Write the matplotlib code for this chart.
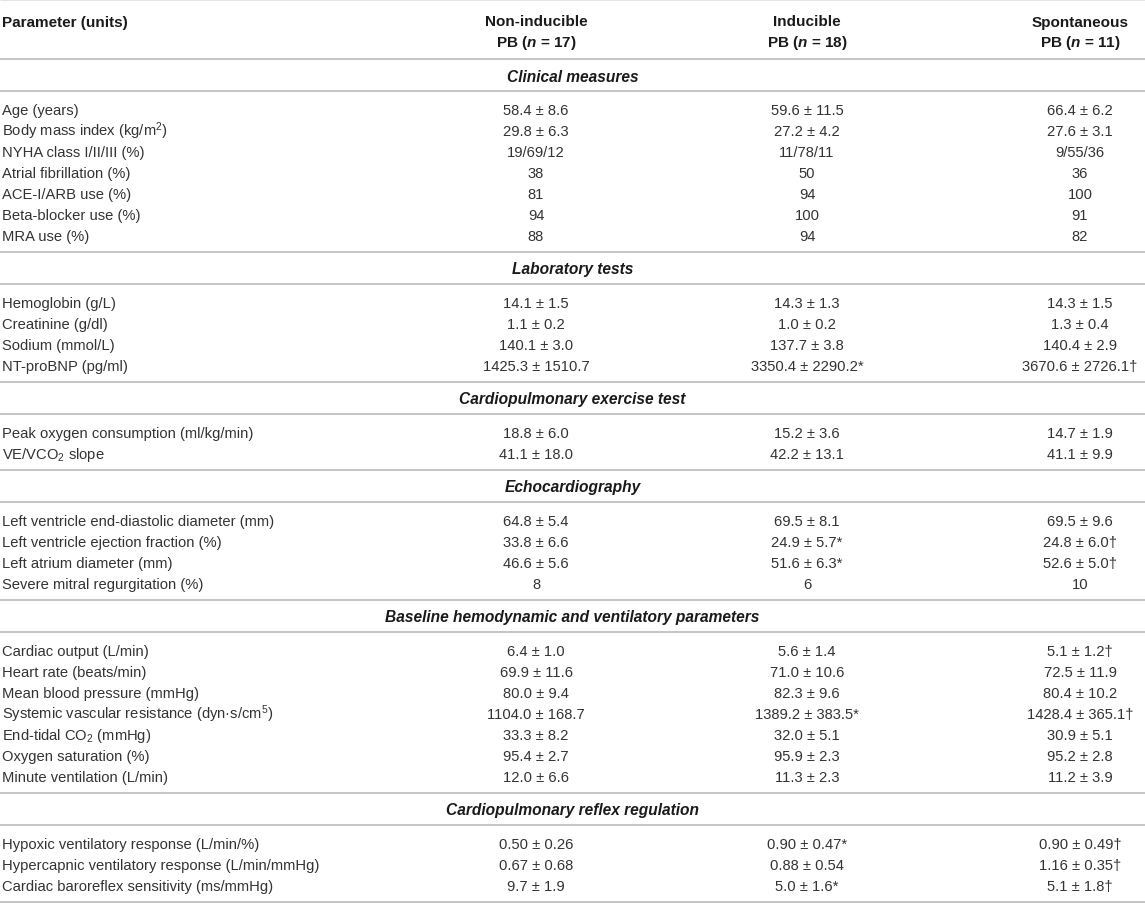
import matplotlib
matplotlib.use("Agg")
import matplotlib.pyplot as plt

plt.rcParams['font.family'] = ['Liberation Sans', 'DejaVu Sans']
plt.rcParams['mathtext.fontset'] = 'custom'
plt.rcParams['mathtext.rm'] = 'Liberation Sans'
plt.rcParams['mathtext.it'] = 'Liberation Sans:italic'
plt.rcParams['mathtext.bf'] = 'Liberation Sans:bold'
try:
    plt.rcParams['mathtext.bfit'] = 'Liberation Sans:italic:bold'
    HAS_BFIT = True
except KeyError:
    HAS_BFIT = False
plt.rcParams['mathtext.default'] = 'regular'

# ---------------- data ----------------
first_header = "Parameter (units)"
group_names = ["Non-inducible", "Inducible", "Spontaneous"]
group_sizes = [17, 18, 11]

section_titles = [
    "Clinical measures",
    "Laboratory tests",
    "Cardiopulmonary exercise test",
    "Echocardiography",
    "Baseline hemodynamic and ventilatory parameters",
    "Cardiopulmonary reflex regulation",
]
section_row_counts = [7, 4, 2, 4, 7, 3]

parameters = [
    "Age (years)",
    "Body mass index (kg/m$^{2}$)",
    "NYHA class I/II/III (%)",
    "Atrial fibrillation (%)",
    "ACE-I/ARB use (%)",
    "Beta-blocker use (%)",
    "MRA use (%)",
    "Hemoglobin (g/L)",
    "Creatinine (g/dl)",
    "Sodium (mmol/L)",
    "NT-proBNP (pg/ml)",
    "Peak oxygen consumption (ml/kg/min)",
    "VE/VCO$_{2}$ slope",
    "Left ventricle end-diastolic diameter (mm)",
    "Left ventricle ejection fraction (%)",
    "Left atrium diameter (mm)",
    "Severe mitral regurgitation (%)",
    "Cardiac output (L/min)",
    "Heart rate (beats/min)",
    "Mean blood pressure (mmHg)",
    "Systemic vascular resistance (dyn\u00b7s/cm$^{5}$)",
    "End-tidal CO$_{2}$ (mmHg)",
    "Oxygen saturation (%)",
    "Minute ventilation (L/min)",
    "Hypoxic ventilatory response (L/min/%)",
    "Hypercapnic ventilatory response (L/min/mmHg)",
    "Cardiac baroreflex sensitivity (ms/mmHg)",
]

non_inducible = [
    "58.4 \u00b1 8.6", "29.8 \u00b1 6.3", "19/69/12", "38", "81", "94", "88",
    "14.1 \u00b1 1.5", "1.1 \u00b1 0.2", "140.1 \u00b1 3.0", "1425.3 \u00b1 1510.7",
    "18.8 \u00b1 6.0", "41.1 \u00b1 18.0",
    "64.8 \u00b1 5.4", "33.8 \u00b1 6.6", "46.6 \u00b1 5.6", "8",
    "6.4 \u00b1 1.0", "69.9 \u00b1 11.6", "80.0 \u00b1 9.4", "1104.0 \u00b1 168.7",
    "33.3 \u00b1 8.2", "95.4 \u00b1 2.7", "12.0 \u00b1 6.6",
    "0.50 \u00b1 0.26", "0.67 \u00b1 0.68", "9.7 \u00b1 1.9",
]
inducible = [
    "59.6 \u00b1 11.5", "27.2 \u00b1 4.2", "11/78/11", "50", "94", "100", "94",
    "14.3 \u00b1 1.3", "1.0 \u00b1 0.2", "137.7 \u00b1 3.8", "3350.4 \u00b1 2290.2*",
    "15.2 \u00b1 3.6", "42.2 \u00b1 13.1",
    "69.5 \u00b1 8.1", "24.9 \u00b1 5.7*", "51.6 \u00b1 6.3*", "6",
    "5.6 \u00b1 1.4", "71.0 \u00b1 10.6", "82.3 \u00b1 9.6", "1389.2 \u00b1 383.5*",
    "32.0 \u00b1 5.1", "95.9 \u00b1 2.3", "11.3 \u00b1 2.3",
    "0.90 \u00b1 0.47*", "0.88 \u00b1 0.54", "5.0 \u00b1 1.6*",
]
spontaneous = [
    "66.4 \u00b1 6.2", "27.6 \u00b1 3.1", "9/55/36", "36", "100", "91", "82",
    "14.3 \u00b1 1.5", "1.3 \u00b1 0.4", "140.4 \u00b1 2.9", "3670.6 \u00b1 2726.1\u2020",
    "14.7 \u00b1 1.9", "41.1 \u00b1 9.9",
    "69.5 \u00b1 9.6", "24.8 \u00b1 6.0\u2020", "52.6 \u00b1 5.0\u2020", "10",
    "5.1 \u00b1 1.2\u2020", "72.5 \u00b1 11.9", "80.4 \u00b1 10.2", "1428.4 \u00b1 365.1\u2020",
    "30.9 \u00b1 5.1", "95.2 \u00b1 2.8", "11.2 \u00b1 3.9",
    "0.90 \u00b1 0.49\u2020", "1.16 \u00b1 0.35\u2020", "5.1 \u00b1 1.8\u2020",
]

# ---------------- layout / style ----------------
W, H = 1145, 904
col_x = [536, 807, 1080]
left_x = 2
body_size = 10.6
head_size = 11
section_size = 11.2
body_color = "#333333"
head_color = "#1a1a1a"
line_color = "#c6c6c6"
line_w = 1.45
row_h = 21
band_h = 32
pad_top = 17.5
pad_bot = 17.5
base_off = 5.2

fig = plt.figure(figsize=(W / 100, H / 100), dpi=100)
ax = fig.add_axes([0, 0, 1, 1])
ax.set_xlim(0, W)
ax.set_ylim(H, 0)
ax.axis("off")


def hline(y, lw=line_w, color=line_color):
    ax.plot([0, W], [y, y], color=color, lw=lw, solid_capstyle="butt")


# top rule
hline(0.8, lw=0.8, color="#e4e4e4")

# column header
ax.text(left_x, 26.5, first_header, fontsize=head_size, fontweight="bold",
        color=head_color, va="baseline", ha="left")
for x, name, n in zip(col_x, group_names, group_sizes):
    ax.text(x, 26.5, name, fontsize=head_size, fontweight="bold",
            color=head_color, va="baseline", ha="center")
    nsym = r"$\mathbfit{n}$" if HAS_BFIT else r"$\mathbf{n}$"
    ax.text(x, 47.5, f"PB ({nsym} = {n})", fontsize=head_size,
            fontweight="bold", color=head_color, va="baseline", ha="center")

y = 60
hline(y)
row = 0
for title, count in zip(section_titles, section_row_counts):
    ax.text(W / 2, y + band_h / 2 + base_off + 0.3, title, fontsize=section_size,
            fontweight="bold", fontstyle="italic", color=head_color,
            va="baseline", ha="center")
    y += band_h
    hline(y)
    for i in range(count):
        yc = y + pad_top + i * row_h
        ax.text(left_x, yc + base_off, parameters[row], fontsize=body_size,
                color=body_color, va="baseline", ha="left")
        for x, col in zip(col_x, (non_inducible, inducible, spontaneous)):
            ax.text(x, yc + base_off, col[row], fontsize=body_size,
                    color=body_color, va="baseline", ha="center")
        row += 1
    y = y + pad_top + (count - 1) * row_h + pad_bot
    hline(y)

fig.savefig("out.png", dpi=100, facecolor="white")
